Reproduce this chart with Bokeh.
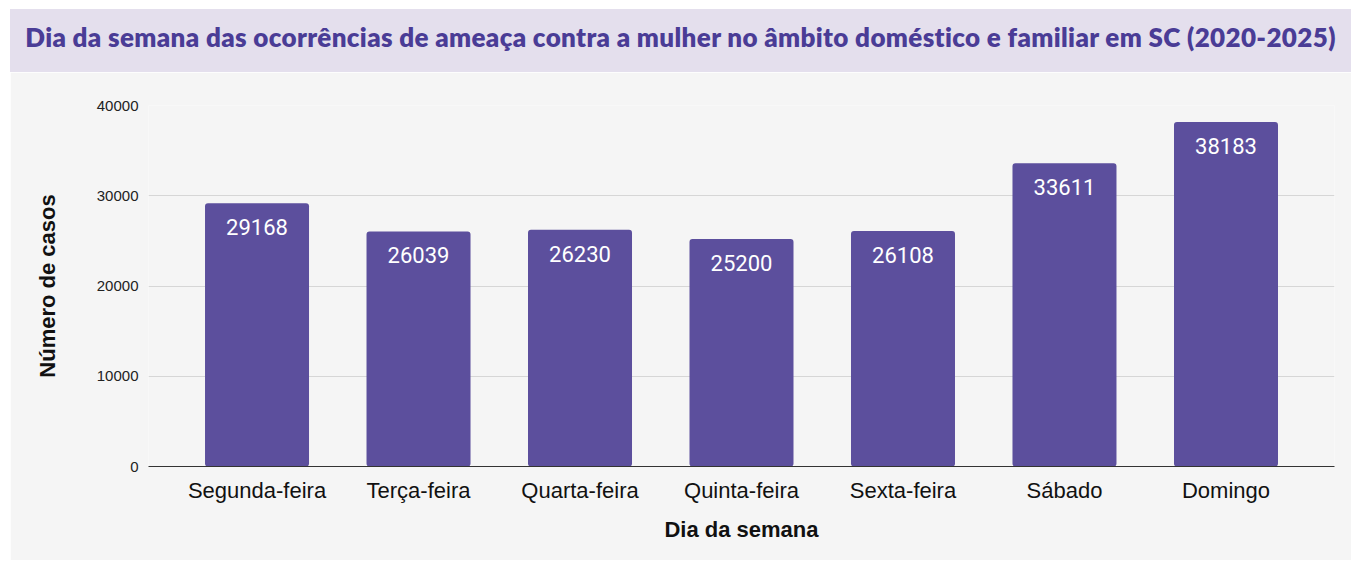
from bokeh.plotting import figure
from bokeh.models import Div, FixedTicker, ColumnDataSource, FactorRange, Range1d
from bokeh.layouts import column
from bokeh.core.properties import value
from bokeh.embed import file_html
from bokeh.resources import INLINE

days = ["Segunda-feira", "Terça-feira", "Quarta-feira", "Quinta-feira",
        "Sexta-feira", "Sábado", "Domingo"]
cases = [29168, 26039, 26230, 25200, 26108, 33611, 38183]
y_ticks = [0, 10000, 20000, 30000, 40000]
title_text = "Dia da semana das ocorrências de ameaça contra a mulher no âmbito doméstico e familiar em SC (2020-2025)"

W = 1341
BAND_H = 63

header = Div(
    text=title_text,
    width=W, height=BAND_H, margin=0,
    styles={
        "background-color": "#e4dfed",
        "color": "#4a3c96",
        "font-family": "Lato, 'Open Sans', sans-serif",
        "font-weight": "800",
        "font-size": "26px",
        "letter-spacing": "0.35px",
        "line-height": "57px",
        "text-align": "center",
        "width": f"{W}px",
        "height": f"{BAND_H}px",
        "white-space": "nowrap",
        "overflow": "hidden",
    },
)

src = ColumnDataSource(data=dict(day=days, cases=cases, lbl=[str(v) for v in cases]))

p = figure(
    x_range=FactorRange(*days, range_padding=0.172, range_padding_units="absolute"),
    y_range=Range1d(0, 40000),
    width=W, height=488, margin=0,
    output_backend="svg", toolbar_location=None,
    min_border_left=138, min_border_right=17, min_border_top=33, min_border_bottom=94,
    background_fill_color="#f5f5f5", border_fill_color="#f5f5f5",
    outline_line_color=None,
)

p.vbar(x="day", top="cases", width=0.644, source=src,
       fill_color="#5c4f9d", line_color=None, border_radius=3)

p.text(x="day", y="cases", text="lbl", source=src,
       text_color="white", text_font=value("Roboto"), text_font_size="22px",
       text_align="center", text_baseline="top", y_offset=16)

# y axis
p.yaxis.ticker = FixedTicker(ticks=y_ticks)
p.yaxis.axis_line_color = None
p.yaxis.major_tick_line_color = None
p.yaxis.minor_tick_line_color = None
p.yaxis.major_label_text_font = "Liberation Sans"
p.yaxis.major_label_text_font_size = "15px"
p.yaxis.major_label_text_color = "#222222"
p.yaxis.major_label_standoff = 4
p.yaxis.axis_label = "Número de casos"
p.yaxis.axis_label_text_font = "Liberation Sans"
p.yaxis.axis_label_text_font_style = "bold"
p.yaxis.axis_label_text_font_size = "22px"
p.yaxis.axis_label_text_color = "#111111"
p.yaxis.axis_label_standoff = 34

# x axis
p.xaxis.axis_line_color = "#333333"
p.xaxis.axis_line_width = 1
p.xaxis.major_tick_line_color = None
p.xaxis.minor_tick_line_color = None
p.xaxis.major_label_text_font = "Liberation Sans"
p.xaxis.major_label_text_font_size = "22px"
p.xaxis.major_label_text_color = "#111111"
p.xaxis.major_label_standoff = 5
p.xaxis.axis_label = "Dia da semana"
p.xaxis.axis_label_text_font = "Liberation Sans"
p.xaxis.axis_label_text_font_style = "bold"
p.xaxis.axis_label_text_font_size = "22px"
p.xaxis.axis_label_text_color = "#111111"
p.xaxis.axis_label_standoff = 11

p.xgrid.grid_line_color = None
p.ygrid.grid_line_color = "#d6d6d6"
p.ygrid.grid_line_width = 1

layout = column(header, p, spacing=0, margin=(9, 0, 0, 10))

open("out.html", "w").write(file_html(layout, INLINE))
